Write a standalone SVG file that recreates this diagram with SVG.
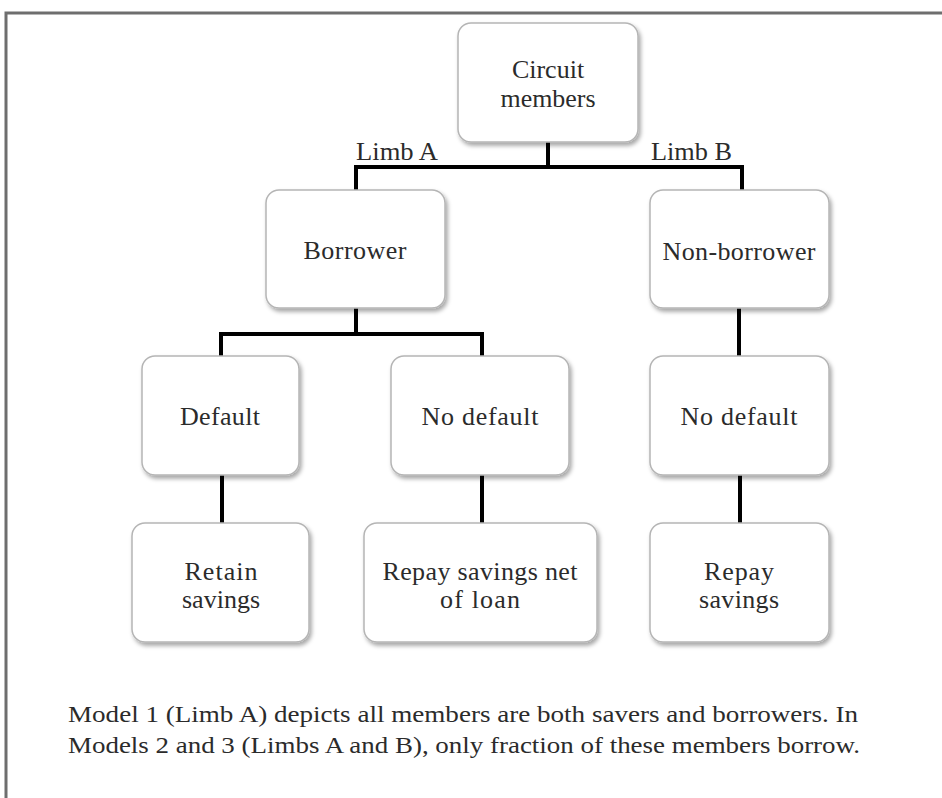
<svg xmlns="http://www.w3.org/2000/svg" width="942" height="798" viewBox="0 0 942 798">
<defs>
<filter id="sh" x="-10%" y="-10%" width="125%" height="125%">
<feDropShadow dx="2" dy="3" stdDeviation="2" flood-color="#000" flood-opacity="0.35"/>
</filter>
<style>
.box{fill:#fff;stroke:#b5b5b5;stroke-width:1.5;filter:url(#sh)}
.t{font-family:"Liberation Serif","Times New Roman",serif;font-size:26px;fill:#2b2b2b;text-anchor:middle}
.cap{font-family:"Liberation Serif","Times New Roman",serif;font-size:24px;fill:#2b2b2b}
.lbl{font-family:"Liberation Serif","Times New Roman",serif;font-size:25px;fill:#2b2b2b}
.c{fill:none;stroke:#000;stroke-width:4}
</style>
</defs>
<rect width="942" height="798" fill="#fff"/>
<path d="M6 798 V13 H942" fill="none" stroke="#6e6e6e" stroke-width="3"/>

<g id="connectors">
<path class="c" d="M548 142 V167"/>
<path class="c" d="M356 190 V167 H742 V190"/>
<path class="c" d="M356 308 V334"/>
<path class="c" d="M221 357 V334 H482 V357"/>
<path class="c" d="M739 308 V357"/>
<path class="c" d="M222 475 V523"/>
<path class="c" d="M482 475 V523"/>
<path class="c" d="M740 475 V523"/>
</g>

<g id="limb-labels">
<text class="lbl" x="356" y="160" textLength="82" lengthAdjust="spacingAndGlyphs">Limb A</text>
<text class="lbl" x="651" y="160" textLength="81" lengthAdjust="spacingAndGlyphs">Limb B</text>
</g>

<g id="circuit-members">
<rect class="box" x="458" y="23" width="180" height="119" rx="13"/>
<text class="t" x="548" y="78">Circuit</text>
<text class="t" x="548" y="107" textLength="95" lengthAdjust="spacingAndGlyphs">members</text>
</g>

<g id="borrower">
<rect class="box" x="266" y="190" width="179" height="118" rx="13"/>
<text class="t" x="355" y="259" textLength="103" lengthAdjust="spacing">Borrower</text>
</g>

<g id="non-borrower">
<rect class="box" x="650" y="190" width="179" height="118" rx="13"/>
<text class="t" x="739" y="260" textLength="153" lengthAdjust="spacing">Non-borrower</text>
</g>

<g id="default">
<rect class="box" x="142" y="356" width="157" height="119" rx="13"/>
<text class="t" x="220" y="425" textLength="80" lengthAdjust="spacing">Default</text>
</g>

<g id="no-default-a">
<rect class="box" x="391" y="356" width="178" height="119" rx="13"/>
<text class="t" x="480" y="425" textLength="117" lengthAdjust="spacing">No default</text>
</g>

<g id="no-default-b">
<rect class="box" x="650" y="356" width="179" height="119" rx="13"/>
<text class="t" x="739" y="425" textLength="117" lengthAdjust="spacing">No default</text>
</g>

<g id="retain-savings">
<rect class="box" x="132" y="523" width="177" height="119" rx="13"/>
<text class="t" x="221" y="580" textLength="73" lengthAdjust="spacing">Retain</text>
<text class="t" x="221" y="608" textLength="78" lengthAdjust="spacing">savings</text>
</g>

<g id="repay-net">
<rect class="box" x="364" y="523" width="233" height="119" rx="13"/>
<text class="t" x="480" y="580" textLength="195" lengthAdjust="spacing">Repay savings net</text>
<text class="t" x="480" y="608" textLength="80" lengthAdjust="spacing">of  loan</text>
</g>

<g id="repay-savings">
<rect class="box" x="650" y="523" width="179" height="119" rx="13"/>
<text class="t" x="739" y="580" textLength="70" lengthAdjust="spacing">Repay</text>
<text class="t" x="739" y="608" textLength="80" lengthAdjust="spacing">savings</text>
</g>

<g id="caption">
<text class="cap" x="68" y="722" textLength="790" lengthAdjust="spacingAndGlyphs">Model 1 (Limb A) depicts all members  are both savers and borrowers.  In</text>
<text class="cap" x="68" y="753" textLength="792" lengthAdjust="spacingAndGlyphs">Models 2 and 3 (Limbs A and B), only fraction of these members borrow.</text>
</g>
</svg>
